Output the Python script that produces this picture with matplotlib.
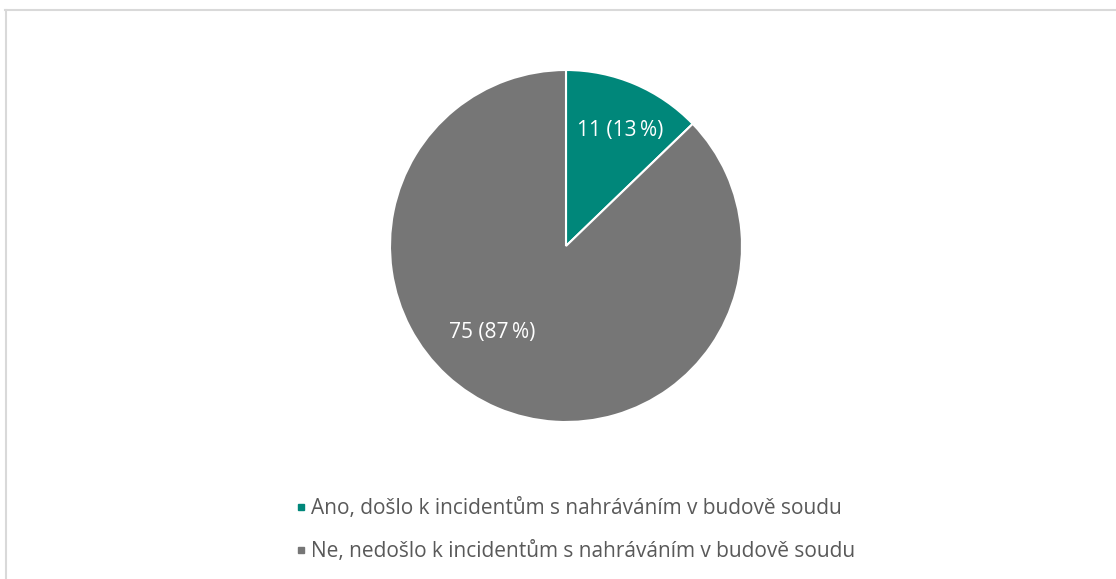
import numpy as np
import matplotlib.pyplot as plt
from matplotlib.lines import Line2D

labels = ["Ano, došlo k incidentům s nahráváním v budově soudu",
          "Ne, nedošlo k incidentům s nahráváním v budově soudu"]
counts = [11, 75]
colors = ["#00877A", "#767676"]

plt.rcParams['font.family'] = ['Open Sans', 'DejaVu Sans']

W, H = 1116, 579
fig = plt.figure(figsize=(W / 100, H / 100), dpi=100)

# pie axes: center (566, 246), radius 176 px
r = 176
ax = fig.add_axes([(566 - r) / W, (H - 246 - r) / H, 2 * r / W, 2 * r / H])
total = sum(counts)

def fmt(n):
    return "%d (%d\u2009%%)" % (n, round(n / total * 100))

wedges = ax.pie(counts, colors=colors, startangle=90, counterclock=False,
                wedgeprops=dict(edgecolor="white", linewidth=1.5))[0]

# data labels, placed where Excel puts them
pos = [(0.31, 0.655), (-0.42, -0.49)]
for (x, y), c in zip(pos, counts):
    ax.text(x, y, fmt(c), ha="center", va="center",
            color="white", fontsize=15)
ax.set_xlim(-1, 1)
ax.set_ylim(-1, 1)
ax.set_aspect("equal")
ax.axis("off")

handles = [Line2D([], [], marker="s", linestyle="none", markersize=5,
                  markerfacecolor=c, markeredgecolor=c) for c in colors]
fig.legend(handles, labels, loc="center", bbox_to_anchor=(575 / W, 1 - 530 / H),
           frameon=False, fontsize=15, labelcolor="#595959", handletextpad=0.2,
           labelspacing=1.05, handlelength=0.6)

# chart border (right and bottom fall outside the image)
fig.add_artist(Line2D([5 / W, 1.0], [1 - 10 / H, 1 - 10 / H], color="#d9d9d9",
                      linewidth=1.5, transform=fig.transFigure))
fig.add_artist(Line2D([6 / W, 6 / W], [0, 1 - 10 / H], color="#d9d9d9",
                      linewidth=1.5, transform=fig.transFigure))

fig.savefig("out.png", dpi=100)
